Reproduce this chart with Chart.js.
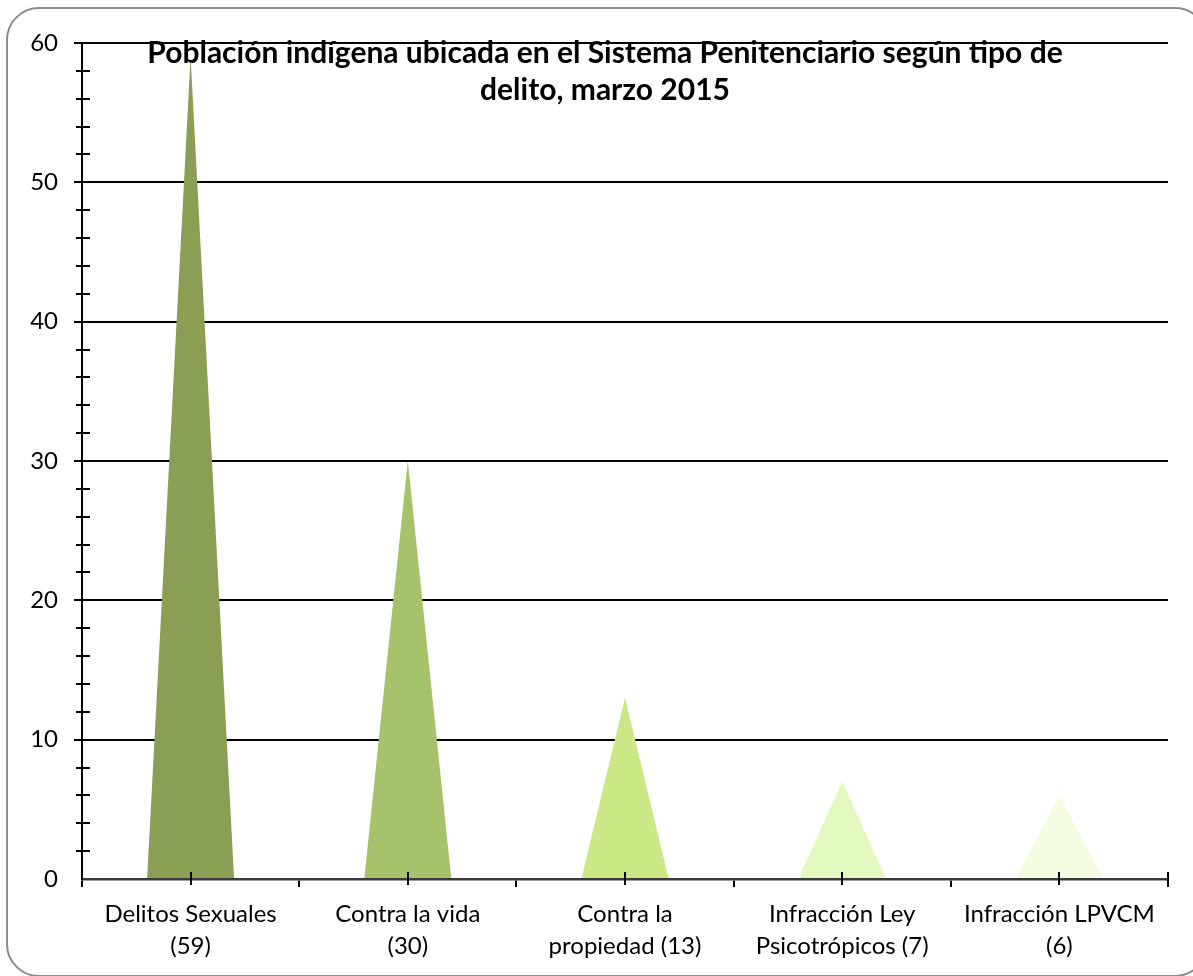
<!DOCTYPE html>
<html><head><meta charset="utf-8">
<script src="https://cdn.jsdelivr.net/npm/chart.js@4"></script>
<style>html,body{margin:0;padding:0;background:#fff}canvas{display:block}</style>
</head><body><canvas id="c" width="1193" height="976"></canvas>
<script>
const categories = [["Delitos Sexuales","(59)"],["Contra la vida","(30)"],["Contra la","propiedad (13)"],["Infracción Ley","Psicotrópicos (7)"],["Infracción LPVCM","(6)"]];
const values = [59, 30, 13, 7, 6];
const colors = ["#8A9F53", "#A4C36A", "#CAE986", "#E3F8BF", "#F5FDE1"];
const yMin = 0, yMax = 60, yStep = 10, yMinorStep = 2;
const titleLines = ["Población indígena ubicada en el Sistema Penitenciario según tipo de", "delito, marzo 2015"];
const FONT = "Lato, 'Open Sans', sans-serif";

const deco = {
  id: 'deco',
  beforeDraw(chart) {
    const ctx = chart.ctx;
    ctx.save();
    ctx.strokeStyle = '#8c8c8c';
    ctx.lineWidth = 2;
    ctx.beginPath();
    ctx.roundRect(7, 8, 1200, 968, 32);
    ctx.stroke();
    ctx.restore();
  },
  beforeDatasetDraw(chart, args) {
    const ctx = chart.ctx;
    const meta = args.meta;
    ctx.save();
    meta.data.forEach((el, i) => {
      const w = el.width;
      ctx.fillStyle = colors[i];
      ctx.beginPath();
      ctx.moveTo(el.x - w / 2, el.base);
      ctx.lineTo(el.x, el.y);
      ctx.lineTo(el.x + w / 2, el.base);
      ctx.closePath();
      ctx.fill();
    });
    ctx.restore();
    return false;
  },
  afterDraw(chart) {
    const ctx = chart.ctx;
    const y = chart.scales.y;
    const ax = chart.chartArea.left, ay = chart.chartArea.bottom;
    ctx.save();
    ctx.strokeStyle = '#000';
    ctx.lineWidth = 2;
    for (let v = yMin + yMinorStep; v < yMax; v += yMinorStep) {
      if (v % yStep === 0) continue;
      const py = Math.round(y.getPixelForValue(v));
      ctx.beginPath();
      ctx.moveTo(ax - 6, py);
      ctx.lineTo(ax + 8, py);
      ctx.stroke();
    }
    chart.getDatasetMeta(0).data.forEach(el => {
      const px = Math.round(el.x);
      ctx.beginPath();
      ctx.moveTo(px, ay - 7);
      ctx.lineTo(px, ay + 6);
      ctx.stroke();
    });
    const rx = chart.chartArea.right;
    ctx.beginPath();
    ctx.moveTo(rx, ay - 7);
    ctx.lineTo(rx, ay + 8);
    ctx.stroke();
    ctx.fillStyle = '#000';
    ctx.font = "bold 30px " + FONT;
    ctx.textAlign = 'center';
    ctx.textBaseline = 'middle';
    ctx.fillText(titleLines[0], 605, 53);
    ctx.fillText(titleLines[1], 605, 90);
    ctx.restore();
  }
};

new Chart(document.getElementById('c'), {
  type: 'bar',
  data: {
    labels: categories,
    datasets: [{ data: values, backgroundColor: colors, barPercentage: 0.4, categoryPercentage: 1.0 }]
  },
  options: {
    responsive: false,
    animation: false,
    layout: { padding: { top: 43, right: 25, left: 0, bottom: 0 } },
    plugins: { legend: { display: false }, tooltip: { enabled: false }, title: { display: false } },
    scales: {
      x: {
        grid: { offset: true, drawOnChartArea: false, drawTicks: true, tickLength: 8, color: '#000', lineWidth: 2 },
        border: { display: true, color: '#3a3a3a', width: 2.5 },
        ticks: { color: '#000', font: { family: FONT, size: 24, lineHeight: 1.3 }, padding: 12, maxRotation: 0, autoSkip: false },
        afterFit(s) { s.height = 97; }
      },
      y: {
        min: yMin, max: yMax,
        grid: { color: ctx => (ctx.tick && ctx.tick.value === 0 ? 'rgba(0,0,0,0)' : '#000'), lineWidth: 2, tickLength: 8, drawTicks: true },
        border: { display: true, color: '#000', width: 2 },
        ticks: { stepSize: yStep, color: '#000', font: { family: FONT, size: 24 }, padding: 16 },
        afterFit(s) { s.width = 82; }
      }
    }
  },
  plugins: [deco]
});
</script>
</body></html>
